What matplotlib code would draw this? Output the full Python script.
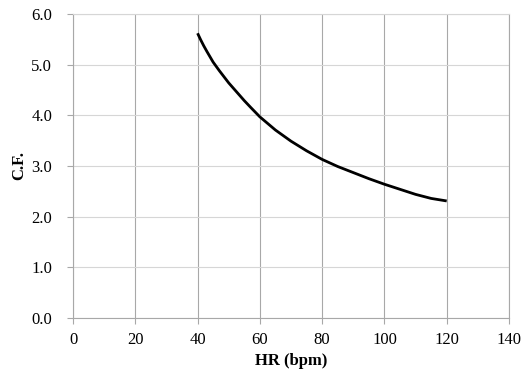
import matplotlib
matplotlib.use("Agg")
import matplotlib.pyplot as plt

# heart rate (bpm) and correction factor
hr = [40, 41, 42, 43, 45, 47, 50, 53, 55, 57, 60, 65, 70, 75, 80, 85, 90, 95,
      100, 105, 110, 115, 120]
cf = [5.62, 5.49, 5.37, 5.26, 5.05, 4.88, 4.64, 4.43, 4.29, 4.16, 3.97, 3.71,
      3.49, 3.30, 3.13, 2.99, 2.87, 2.75, 2.64, 2.54, 2.44, 2.36, 2.31]

xticks = [0, 20, 40, 60, 80, 100, 120, 140]
yticks = [0.0, 1.0, 2.0, 3.0, 4.0, 5.0, 6.0]

plt.rcParams['font.family'] = ['Liberation Serif', 'DejaVu Serif']

fig = plt.figure(figsize=(5.22, 3.75), dpi=100)
ax = fig.add_axes([73/522, 1 - 318/375, (509 - 73)/522, (318 - 14)/375])

ax.plot(hr, cf, color='black', linewidth=2.0, solid_capstyle='butt', zorder=3)

ax.set_xlim(0, 140)
ax.set_ylim(0, 6.0)
ax.set_xticks(xticks)
ax.set_xticklabels([str(v) for v in xticks], fontsize=12)
ax.set_yticks(yticks)
ax.set_yticklabels(['%.1f' % v for v in yticks], fontsize=12)

# vertical grid darker than horizontal grid
ax.xaxis.grid(True, color='#a8a8a8', linewidth=0.8)
ax.yaxis.grid(True, color='#d6d6d6', linewidth=0.8)
ax.set_axisbelow(True)

for side in ['left', 'bottom', 'right']:
    ax.spines[side].set_color('#a8a8a8')
    ax.spines[side].set_linewidth(0.8)
ax.spines['top'].set_color('#d6d6d6')
ax.spines['top'].set_linewidth(0.8)

ax.tick_params(axis='x', direction='out', length=4, width=0.8, color='#a8a8a8', pad=6)
ax.tick_params(axis='y', direction='out', length=4, width=0.8, color='#a8a8a8', pad=11)

ax.set_xlabel('HR (bpm)', fontsize=12, fontweight='bold', labelpad=4)
ax.set_ylabel('C.F.', fontsize=12, fontweight='bold', labelpad=3)

fig.savefig('out.png', dpi=100)
